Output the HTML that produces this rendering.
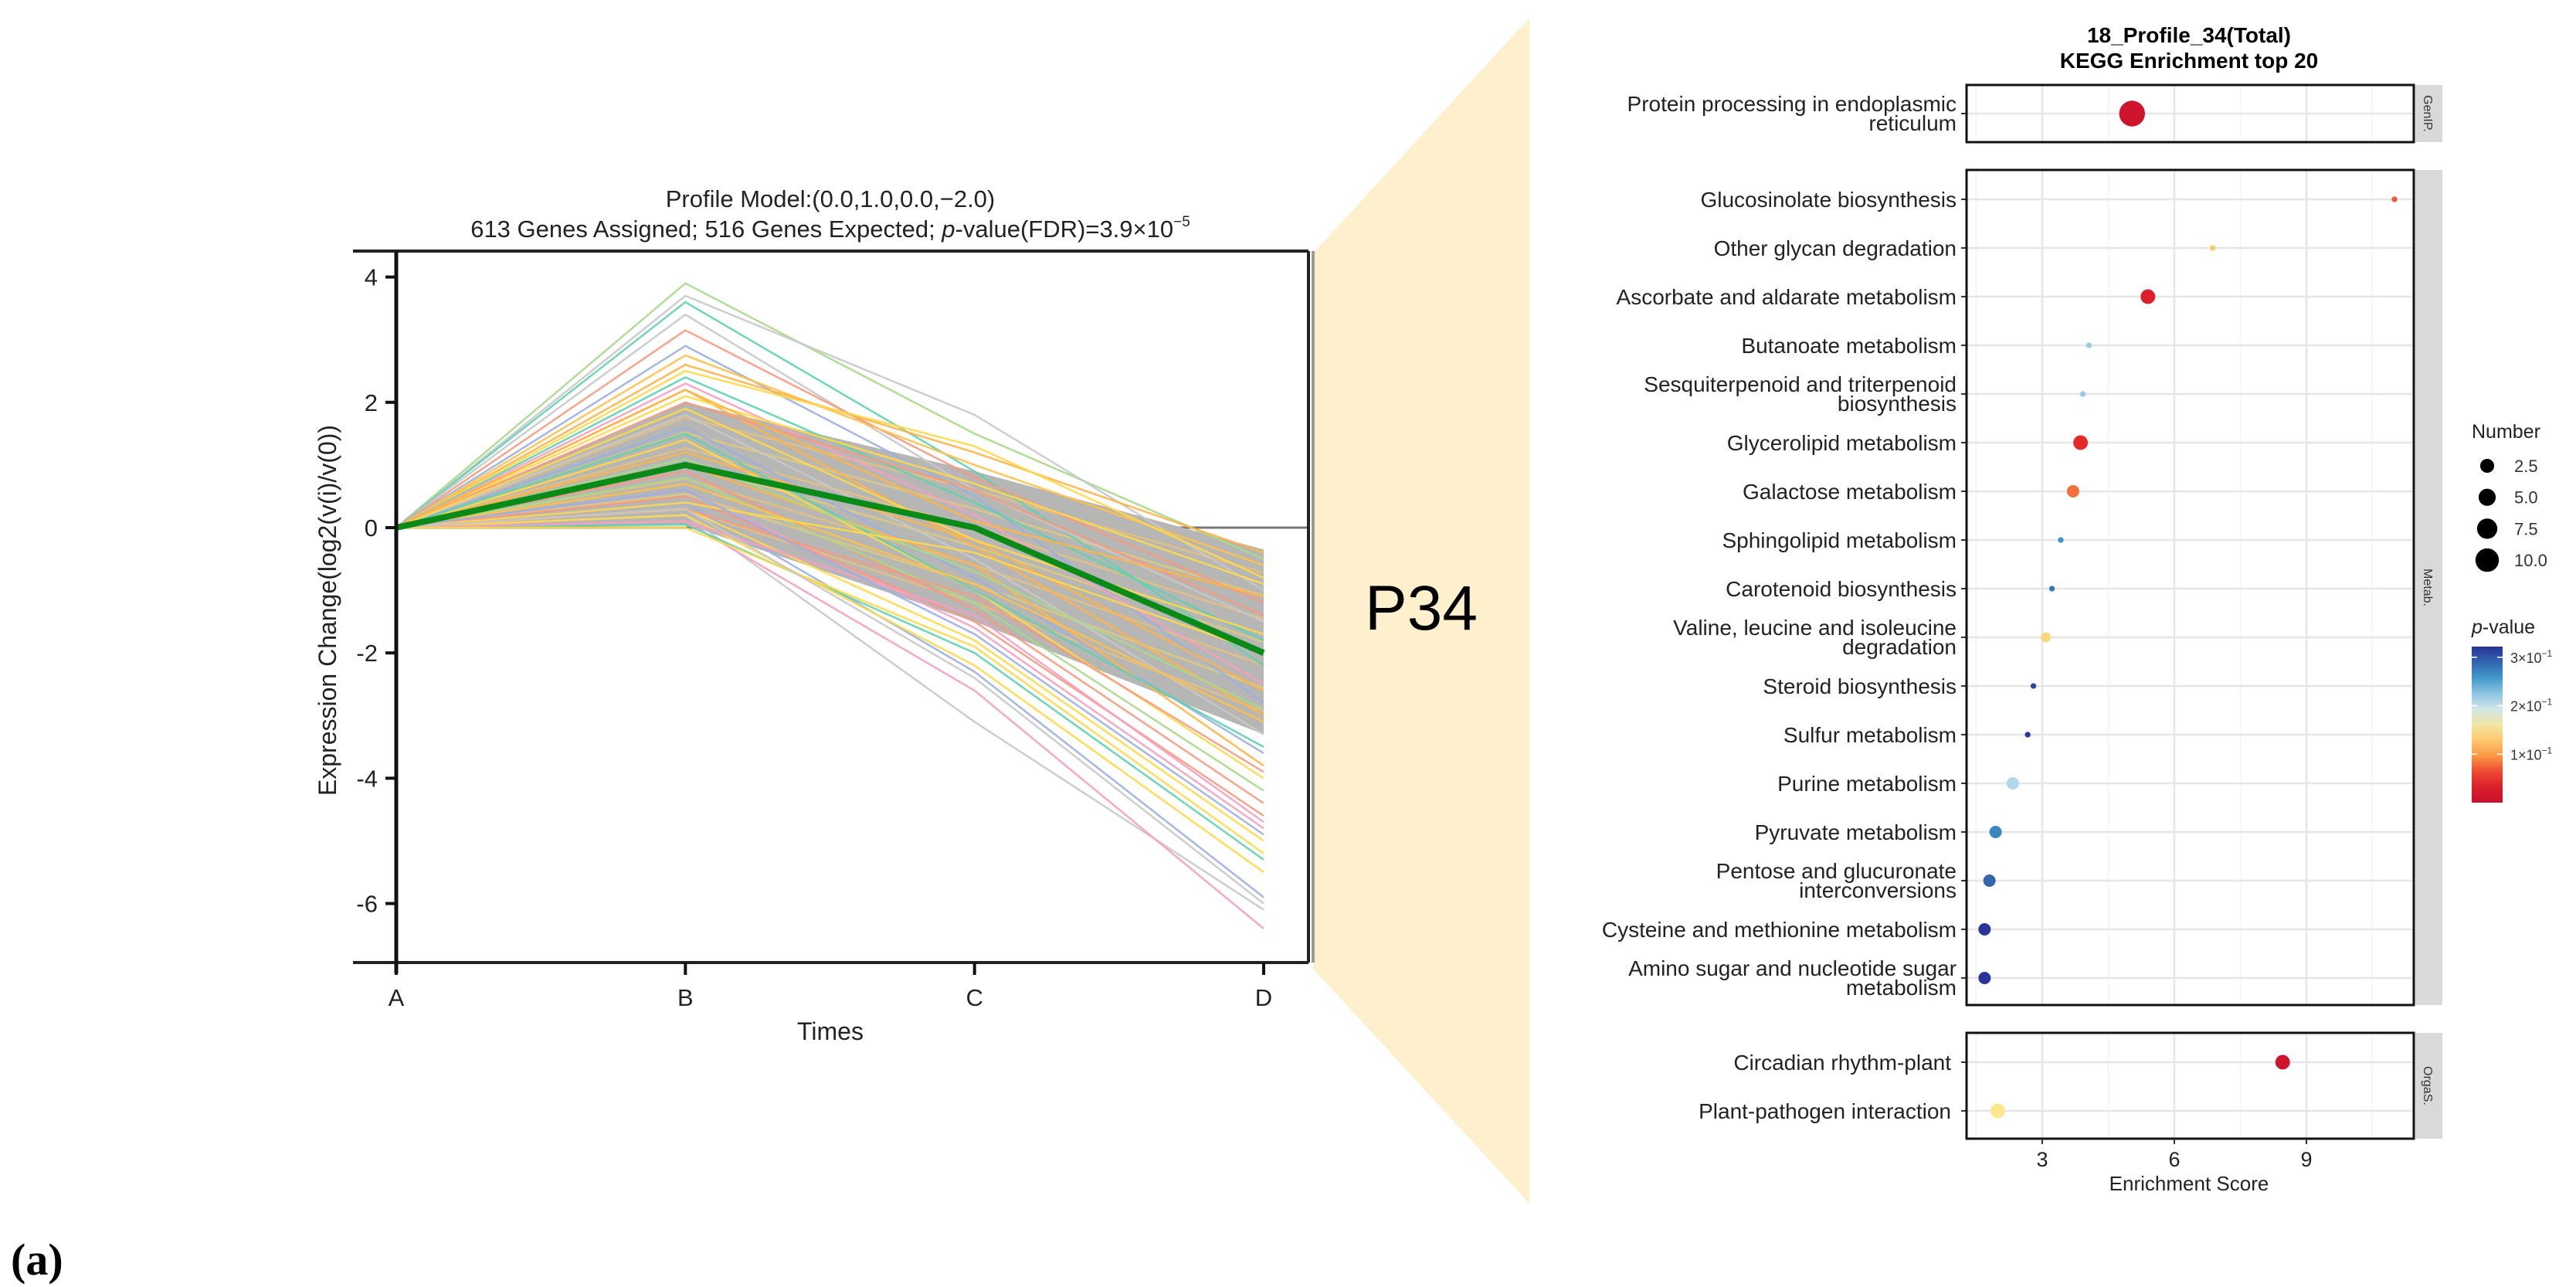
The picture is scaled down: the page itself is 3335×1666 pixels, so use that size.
<!DOCTYPE html>
<html><head><meta charset="utf-8">
<style>
html,body{margin:0;padding:0;background:#fff;}
body{width:3335px;height:1666px;overflow:hidden;position:relative;font-family:"Liberation Sans",Arial,sans-serif;}
svg{position:absolute;left:0;top:0;}
</style></head>
<body>
<svg id="fig" width="3335" height="1666" viewBox="0 0 3335 1666" xmlns="http://www.w3.org/2000/svg">
  <polygon points="1700,328 1980,23 1980,1558 1700,1254" fill="#fef0cc"/>
  <text x="1840" y="815" font-size="82" text-anchor="middle" fill="#000" font-family="Liberation Sans, sans-serif">P34</text>
  <text x="14" y="1650" font-size="58" font-weight="bold" font-family="Liberation Serif, serif">(a)</text>
  <g id="left"></g>
  <g id="right"></g>
</svg>
<script>
// ---------- Left chart data ----------
const timePoints = ["A","B","C","D"];
const yTicks = [4,2,0,-2,-4,-6];
const modelProfile = [0,1,0,-2];
const envelopeUpper = [0,2.0,0.9,-0.35];
const envelopeLower = [0,0.05,-1.5,-3.3];
const geneB = [3.9,3.7,3.6,3.4,3.15,2.9,2.75,2.6,2.5,2.4,2.3,2.2,2.1,2.0,1.8,1.6,1.4,1.2,0.9,0.6,0.4,0.2,0.1,0.05,0.3,0.5,0.8,1.0,1.5,0.2,0.1,0.7,1.1,0.4,0.3,2.2,1.9,0.6,0.0,0.3];
const geneC = [1.5,1.8,0.9,0.6,0.8,0.5,1.0,1.2,1.3,0.4,0.2,-0.3,0.7,0.6,-0.5,-0.8,-1.0,-0.2,-1.3,-1.6,-2.3,-3.1,-2.6,-2.0,-1.8,-1.5,-1.2,-0.6,-1.0,-2.2,-1.4,-0.9,-0.7,-0.4,-1.1,0.1,-0.2,-1.7,-1.9,-2.4];
const geneD = [-0.5,-1.0,-2.2,-1.5,-1.2,-2.8,-0.6,-0.4,-0.8,-1.8,-2.5,-3.0,-0.9,-1.4,-3.3,-3.6,-4.0,-2.6,-4.4,-4.8,-5.9,-6.1,-6.4,-5.3,-5.0,-4.6,-4.2,-3.8,-3.5,-5.5,-4.7,-3.1,-2.9,-2.0,-3.9,-1.1,-1.7,-4.9,-5.2,-6.0];
const geneColor = ["#a8d88a","#c8c8c8","#5fd0b0","#c8c8c8","#f59a80","#9ab0e0","#ffc04a","#ffb347","#ffd84a","#5fd0b0","#f4a0c0","#ffb347","#ffd84a","#f59a80","#c8c8c8","#9ab0e0","#ffd84a","#ffb347","#f59a80","#f4a0c0","#9ab0e0","#c8c8c8","#f4a0c0","#5fd0b0","#ffd84a","#f59a80","#a8d88a","#ffb347","#5fd0b0","#ffd84a","#f4a0c0","#ffc04a","#a8d88a","#ffd84a","#f59a80","#ffb347","#ffd84a","#9ab0e0","#ffd84a","#c8c8c8"];

// ---------- Right chart data ----------
const pathways = ["Protein processing in endoplasmic|reticulum","Glucosinolate biosynthesis","Other glycan degradation","Ascorbate and aldarate metabolism","Butanoate metabolism","Sesquiterpenoid and triterpenoid|biosynthesis","Glycerolipid metabolism","Galactose metabolism","Sphingolipid metabolism","Carotenoid biosynthesis","Valine, leucine and isoleucine|degradation","Steroid biosynthesis","Sulfur metabolism","Purine metabolism","Pyruvate metabolism","Pentose and glucuronate|interconversions","Cysteine and methionine metabolism","Amino sugar and nucleotide sugar|metabolism","Circadian rhythm-plant","Plant-pathogen interaction"];
const panelOf = [0,1,1,1,1,1,1,1,1,1,1,1,1,1,1,1,1,1,2,2];
const enrichScore = [5.04,11.0,6.87,5.4,4.06,3.92,3.87,3.7,3.42,3.22,3.08,2.8,2.67,2.33,1.94,1.8,1.69,1.69,8.46,1.99];
const geneNumber = [10,1,1,5,1,1,5,4,1,1,3,1,1,4,4,4,4,4,5,5];
const pValue = [0.01,0.07,0.13,0.03,0.22,0.22,0.05,0.08,0.26,0.28,0.14,0.31,0.32,0.21,0.27,0.29,0.32,0.32,0.01,0.15];
const xTicksR = [3,6,9];
const panelNames = ["GenIP.","Metab.","OrgaS."];
const legendSizes = [2.5,5.0,7.5,10.0];
const colorbarTicks = [0.3,0.2,0.1];

const NS="http://www.w3.org/2000/svg";
function mk(parent,tag,attrs,text){const e=document.createElementNS(NS,tag);for(const k in attrs)e.setAttribute(k,attrs[k]);if(text!==undefined)e.textContent=text;parent.appendChild(e);return e;}

// ---------- Left chart ----------
(function(){
  const g=document.getElementById('left');
  const xA=513,xD=1636, plotL=457, plotR=1694, top=325, bot=1246;
  const y0=683, unit=81.1;
  const X=i=>xA+(xD-xA)*i/(timePoints.length-1);
  const Y=v=>y0-v*unit;
  let e=mk(g,'line',{x1:xA,x2:plotR,y1:Y(0),y2:Y(0),stroke:'#777','stroke-width':3});
  
  
  let pts=[];
  for(let i=0;i<4;i++)pts.push(X(i)+','+Y(envelopeUpper[i]));
  for(let i=3;i>=0;i--)pts.push(X(i)+','+Y(envelopeLower[i]));
  e=mk(g,'polygon',{points:pts.join(' '),fill:'#b6b6b4'});
  
  
  for(let k=1;k<8;k++){
    const f=k/8;
    const v=[0,1,2,3].map(i=>envelopeLower[i]+(envelopeUpper[i]-envelopeLower[i])*f);
    e=mk(g,'polyline',{points:v.map((vv,i)=>X(i)+','+Y(vv)).join(' '),fill:'none',stroke:k%2?'#f7c46a':'#f3d36b','stroke-width':3,opacity:0.55});
    
    
  }
  for(let i=0;i<geneB.length;i++){
    const v=[0,geneB[i],geneC[i],geneD[i]];
    e=mk(g,'polyline',{points:v.map((vv,j)=>X(j)+','+Y(vv)).join(' '),fill:'none',stroke:geneColor[i],'stroke-width':2.5,opacity:0.9});
    
    
  }
  e=mk(g,'polyline',{points:modelProfile.map((v,i)=>X(i)+','+Y(v)).join(' '),fill:'none',stroke:'#0a8a16','stroke-width':8,'stroke-linejoin':'round'});
  
  
  mk(g,'line',{x1:plotL,x2:plotR,y1:top,y2:top,stroke:'#222','stroke-width':4});
  mk(g,'line',{x1:plotL,x2:plotR,y1:bot,y2:bot,stroke:'#222','stroke-width':4});
  mk(g,'line',{x1:plotR,x2:plotR,y1:top,y2:bot,stroke:'#222','stroke-width':4});
  mk(g,'line',{x1:plotR+6,x2:plotR+6,y1:top,y2:bot,stroke:'#999','stroke-width':4});
  e=mk(g,'line',{x1:xA,x2:xA,y1:top,y2:bot+14,stroke:'#111','stroke-width':5});
  
  
  yTicks.forEach(t=>{
    mk(g,'line',{x1:xA-14,x2:xA,y1:Y(t),y2:Y(t),stroke:'#111','stroke-width':4});
    e=mk(g,'text',{x:xA-24,y:Y(t)+11,'font-size':31,'text-anchor':'end',fill:'#222'},t);
    
    
  });
  timePoints.forEach((t,i)=>{
    mk(g,'line',{x1:X(i),x2:X(i),y1:bot,y2:bot+16,stroke:'#111','stroke-width':4});
    e=mk(g,'text',{x:X(i),y:1302,'font-size':31,'text-anchor':'middle',fill:'#222'},t);
    
    
  });
  e=mk(g,'text',{x:1075,y:1346,'font-size':32,'text-anchor':'middle',fill:'#222'},'Times');
  
  
  e=mk(g,'text',{x:0,y:0,'font-size':32,'text-anchor':'middle',fill:'#222',transform:'translate(435,790) rotate(-90)'},'Expression Change(log2(v(i)/v(0))');
  
  
  e=mk(g,'text',{x:1075,y:268,'font-size':31,'text-anchor':'middle',fill:'#222'},'Profile Model:(0.0,1.0,0.0,\u22122.0)');
  
  
  const t2=mk(g,'text',{x:1075,y:307,'font-size':31,'text-anchor':'middle',fill:'#222'});
  
  
  mk(t2,'tspan',{},'613 Genes Assigned; 516 Genes Expected; ');
  mk(t2,'tspan',{'font-style':'italic'},'p');
  mk(t2,'tspan',{},'-value(FDR)=3.9\u00d710');
  mk(t2,'tspan',{dy:-14,'font-size':19},'\u22125');
})();

// ---------- Right chart ----------
(function(){
  const g=document.getElementById('right');
  const L=2546,R=3125, stripR=3162;
  const X=v=>2473+v*57;
  const panels=[[110,184],[220,1301],[1337,1474]];
  const rowY=[147];
  for(let i=0;i<17;i++)rowY.push(258+i*63);
  rowY.push(1375,1438);
  function pColor(p){
    const stops=[[0,[200,16,46]],[0.05,[230,40,40]],[0.1,[253,160,70]],[0.15,[254,230,140]],[0.2,[200,230,245]],[0.26,[60,150,200]],[0.322,[40,50,150]]];
    for(let i=1;i<stops.length;i++){if(p<=stops[i][0]){const a=stops[i-1],b=stops[i],f=(p-a[0])/(b[0]-a[0]);return 'rgb('+a[1].map((c,k)=>Math.round(c+(b[1][k]-c)*f)).join(',')+')';}}
    return 'rgb(40,50,150)';
  }
  const rad=n=>2.2+1.45*n;
  let e;
  e=mk(g,'text',{x:2834,y:55,'font-size':28,'font-weight':'bold','text-anchor':'middle'},'18_Profile_34(Total)');
  
  
  e=mk(g,'text',{x:2834,y:88,'font-size':28,'font-weight':'bold','text-anchor':'middle'},'KEGG Enrichment top 20');
  
  
  panels.forEach((p,k)=>{
    mk(g,'rect',{x:L,y:p[0],width:R-L,height:p[1]-p[0],fill:'#fff'});
    [1.5,4.5,7.5,10.5].forEach(v=>mk(g,'line',{x1:X(v),x2:X(v),y1:p[0],y2:p[1],stroke:'#f3f3f3','stroke-width':1.5}));
    xTicksR.forEach(v=>mk(g,'line',{x1:X(v),x2:X(v),y1:p[0],y2:p[1],stroke:'#e6e6e6','stroke-width':2.5}));
    e=mk(g,'rect',{x:R+2,y:p[0],width:stripR-R-2,height:p[1]-p[0],fill:'#d9d9d9'});
    
    
    const cy=(p[0]+p[1])/2;
    e=mk(g,'text',{x:0,y:0,'font-size':16,'text-anchor':'middle',fill:'#333',transform:'translate('+(R+13)+','+cy+') rotate(90)'},panelNames[k]);
    
    
  });
  pathways.forEach((name,i)=>{
    const y=rowY[i];
    mk(g,'line',{x1:L,x2:R,y1:y,y2:y,stroke:'#e6e6e6','stroke-width':2.5});
    mk(g,'line',{x1:L-7,x2:L,y1:y,y2:y,stroke:'#333','stroke-width':2});
    const parts=name.split('|');
    const tx=panelOf[i]===2?L-20:L-13;
    parts.forEach((s,j)=>{
      const yy=parts.length===1?y+10:y-3+j*25;
      e=mk(g,'text',{x:tx,y:yy,'font-size':28,'text-anchor':'end',fill:'#222'},s);
      
      
    });
    e=mk(g,'circle',{cx:X(enrichScore[i]),cy:y,r:rad(geneNumber[i]),fill:pColor(pValue[i])});
    
    
  });
  panels.forEach(p=>mk(g,'rect',{x:L,y:p[0],width:R-L,height:p[1]-p[0],fill:'none',stroke:'#111','stroke-width':3}));
  xTicksR.forEach(v=>{
    mk(g,'line',{x1:X(v),x2:X(v),y1:1474,y2:1481,stroke:'#333','stroke-width':2});
    e=mk(g,'text',{x:X(v),y:1510,'font-size':27,'text-anchor':'middle',fill:'#222'},v);
    
    
  });
  e=mk(g,'text',{x:2834,y:1541,'font-size':26,'text-anchor':'middle',fill:'#222'},'Enrichment Score');
  
  
  e=mk(g,'text',{x:3200,y:567,'font-size':25,fill:'#222'},'Number');
  
  
  legendSizes.forEach((s,i)=>{
    const y=603+i*40.7;
    e=mk(g,'circle',{cx:3220,cy:y,r:7+s*0.82,fill:'#000'});
    
    
    e=mk(g,'text',{x:3255,y:y+8,'font-size':22,fill:'#333'},s.toFixed(1));
    
    
  });
  const pt=mk(g,'text',{x:3200,y:820,'font-size':25,fill:'#222'});
  
  
  mk(pt,'tspan',{'font-style':'italic'},'p');
  mk(pt,'tspan',{},'-value');
  const defs=mk(g,'defs',{});
  const lg=mk(defs,'linearGradient',{id:'pgrad',x1:0,y1:1,x2:0,y2:0});
  for(let k=0;k<=10;k++){const p=0.322*k/10;mk(lg,'stop',{offset:k/10,'stop-color':pColor(p)});}
  const cbTop=837,cbBot=1039;
  e=mk(g,'rect',{x:3200,y:cbTop,width:40,height:cbBot-cbTop,fill:'url(#pgrad)'});
  
  
  colorbarTicks.forEach(v=>{
    const y=cbBot-(cbBot-cbTop)*v/0.322;
    mk(g,'line',{x1:3200,x2:3207,y1:y,y2:y,stroke:'#fff','stroke-width':1.5});
    mk(g,'line',{x1:3233,x2:3240,y1:y,y2:y,stroke:'#fff','stroke-width':1.5});
    const t=mk(g,'text',{x:3250,y:y+7,'font-size':18,fill:'#333'});
    
    
    mk(t,'tspan',{},Math.round(v*10)+'\u00d710');
    mk(t,'tspan',{dy:-8,'font-size':12},'\u22121');
  });
})();
</script>
</body></html>
